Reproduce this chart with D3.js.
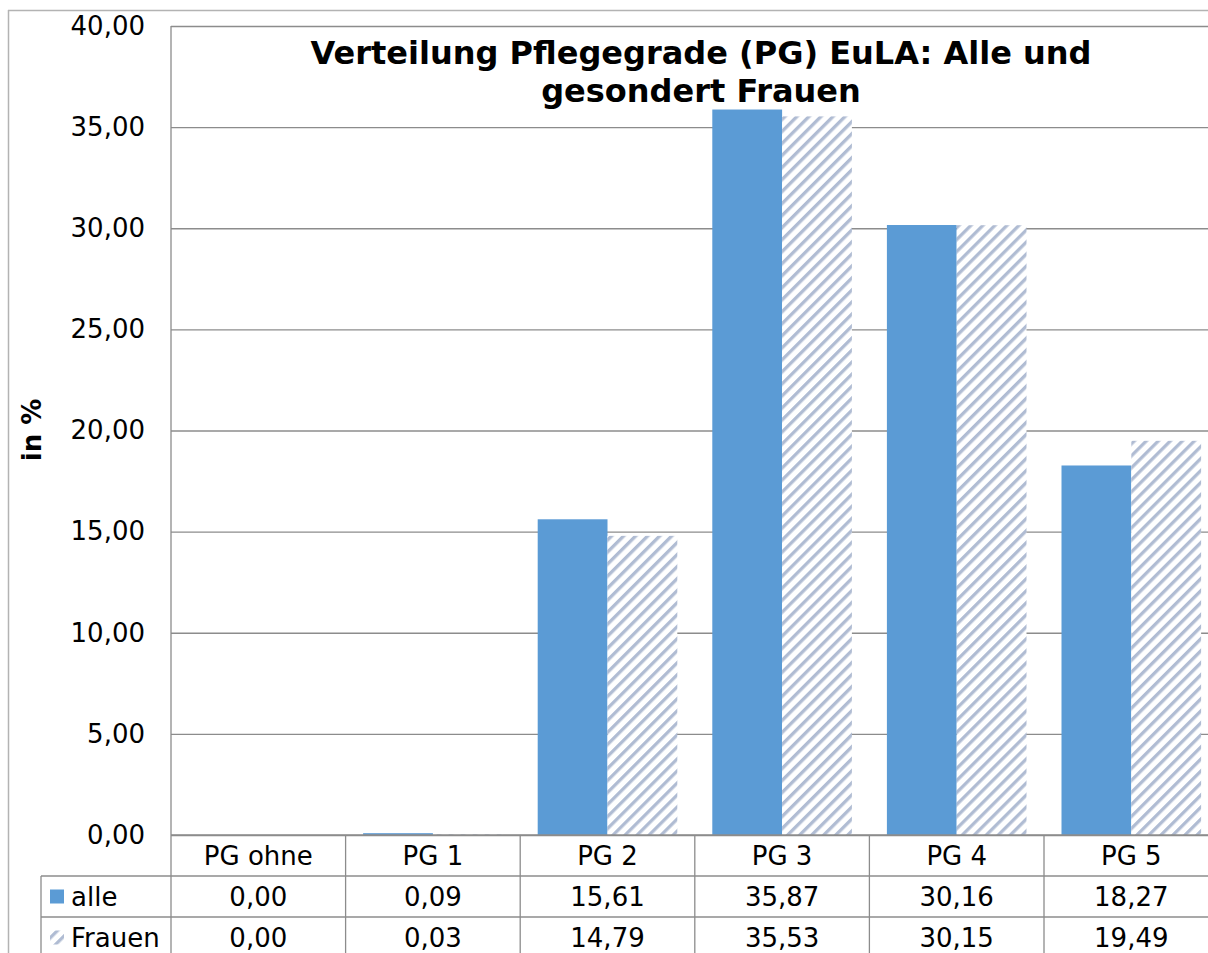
<!DOCTYPE html>
<html>
<head>
<meta charset="utf-8">
<script src="https://cdn.jsdelivr.net/npm/d3@7"></script>
<style>
html, body { margin: 0; padding: 0; background: #fff; overflow: hidden; }
svg { display: block; }
text { font-family: "DejaVu Sans", Verdana, sans-serif; fill: #000; }
</style>
</head>
<body>
<script>
const categories = ["PG ohne", "PG 1", "PG 2", "PG 3", "PG 4", "PG 5"];
const seriesNames = ["alle", "Frauen"];
const alleValues = [0.00, 0.09, 15.61, 35.87, 30.16, 18.27];
const frauenValues = [0.00, 0.03, 14.79, 35.53, 30.15, 19.49];
const yTicks = [0, 5, 10, 15, 20, 25, 30, 35, 40];
const titleLines = ["Verteilung Pflegegrade (PG) EuLA: Alle und", "gesondert Frauen"];
const yLabel = "in %";

const W = 1208, H = 953;
const fmt = v => v.toFixed(2).replace(".", ",");

const svg = d3.select("body").append("svg").attr("width", W).attr("height", H);

const defs = svg.append("defs");
const pat = defs.append("pattern")
  .attr("id", "hatch").attr("patternUnits", "userSpaceOnUse")
  .attr("width", 8.5).attr("height", 8.5)
  .attr("patternTransform", "rotate(45)");
pat.append("rect").attr("width", 8.5).attr("height", 8.5).attr("fill", "#fff");
pat.append("rect").attr("x", 0).attr("y", 0).attr("width", 3.3).attr("height", 8.5).attr("fill", "#B0BCD3");

const plotLeft = 171, plotTop = 26, plotBottom = 835;
const catW = 174.6;
const plotRight = plotLeft + catW * categories.length;

const x = d3.scaleBand().domain(categories).range([plotLeft, plotRight]).padding(0);
const x1 = d3.scaleBand().domain(seriesNames).range([17.5, catW - 17.5]).padding(0);
const y = d3.scaleLinear().domain([0, 40]).range([plotBottom, plotTop]);

const gridColor = "#8c8c8c";
const borderColor = "#b3b3b3";

// outer chart border
svg.append("line").attr("x1", 8.5).attr("x2", 8.5).attr("y1", 10).attr("y2", H).attr("stroke", borderColor).attr("stroke-width", 1.5);
svg.append("line").attr("x1", 8).attr("x2", W).attr("y1", 10.5).attr("y2", 10.5).attr("stroke", borderColor).attr("stroke-width", 1.5);

// gridlines
const yAxis = d3.axisLeft(y).tickValues(yTicks).tickSize(-(plotRight - plotLeft)).tickFormat(fmt).tickPadding(26);
const gy = svg.append("g").attr("transform", `translate(${plotLeft},0)`).call(yAxis);
gy.select(".domain").remove();
gy.selectAll(".tick line").attr("stroke", gridColor).attr("stroke-width", 1.3);
gy.selectAll(".tick text").attr("font-size", 26).attr("fill", "#000").attr("font-family", "DejaVu Sans, sans-serif").attr("dy", "0.32em");

// bars
const data = categories.map((c, i) => ({ cat: c, vals: [ { s: "alle", v: alleValues[i] }, { s: "Frauen", v: frauenValues[i] } ] }));
const groups = svg.append("g").selectAll("g").data(data).join("g")
  .attr("transform", d => `translate(${x(d.cat)},0)`);
groups.selectAll("rect").data(d => d.vals).join("rect")
  .attr("x", d => x1(d.s))
  .attr("width", x1.bandwidth())
  .attr("y", d => y(d.v))
  .attr("height", d => plotBottom - y(d.v))
  .attr("fill", d => d.s === "alle" ? "#5B9BD5" : "url(#hatch)");

// y axis line
svg.append("line").attr("x1", plotLeft).attr("x2", plotLeft).attr("y1", plotTop).attr("y2", H).attr("stroke", gridColor).attr("stroke-width", 1.3);

// data table
const rowH = 41;
const tableLeft = 41;
const rows = [plotBottom, plotBottom + rowH, plotBottom + 2 * rowH, plotBottom + 3 * rowH];
const tbl = svg.append("g");
tbl.append("line").attr("x1", plotLeft).attr("x2", plotRight).attr("y1", rows[0]).attr("y2", rows[0]).attr("stroke", gridColor).attr("stroke-width", 1.3);
[rows[1], rows[2], rows[3]].forEach(yy => {
  tbl.append("line").attr("x1", tableLeft).attr("x2", plotRight).attr("y1", yy).attr("y2", yy).attr("stroke", gridColor).attr("stroke-width", 1.3);
});
tbl.append("line").attr("x1", tableLeft).attr("x2", tableLeft).attr("y1", rows[1]).attr("y2", H).attr("stroke", gridColor).attr("stroke-width", 1.3);
categories.forEach(c => {
  const xx = x(c) + x.bandwidth();
  tbl.append("line").attr("x1", xx).attr("x2", xx).attr("y1", rows[0]).attr("y2", H).attr("stroke", gridColor).attr("stroke-width", 1.3);
});
tbl.selectAll("text.hdr").data(categories).join("text").attr("class", "hdr")
  .attr("x", d => x(d) + x.bandwidth() / 2).attr("y", rows[0] + rowH / 2).attr("dy", "0.35em")
  .attr("text-anchor", "middle").attr("font-size", 26).text(d => d);
const seriesVals = [alleValues, frauenValues];
seriesVals.forEach((vals, si) => {
  tbl.selectAll("text.v" + si).data(vals).join("text").attr("class", "v" + si)
    .attr("x", (d, i) => x(categories[i]) + x.bandwidth() / 2).attr("y", rows[si + 1] + rowH / 2).attr("dy", "0.35em")
    .attr("text-anchor", "middle").attr("font-size", 26).text(d => fmt(d));
  tbl.append("rect").attr("x", 50).attr("y", rows[si + 1] + rowH / 2 - 7).attr("width", 14).attr("height", 14)
    .attr("fill", si === 0 ? "#5B9BD5" : "url(#hatch)");
  tbl.append("text").attr("x", 71).attr("y", rows[si + 1] + rowH / 2).attr("dy", "0.35em")
    .attr("font-size", 26).text(seriesNames[si]);
});

// y label
svg.append("text").attr("transform", "translate(41,430) rotate(-90)")
  .attr("text-anchor", "middle").attr("font-size", 26).attr("font-weight", "bold").text(yLabel);

// title
svg.append("g").selectAll("text").data(titleLines).join("text")
  .attr("x", 701).attr("y", (d, i) => 64 + i * 38)
  .attr("text-anchor", "middle").attr("font-size", 32).attr("font-weight", "bold").text(d => d);
</script>
</body>
</html>
